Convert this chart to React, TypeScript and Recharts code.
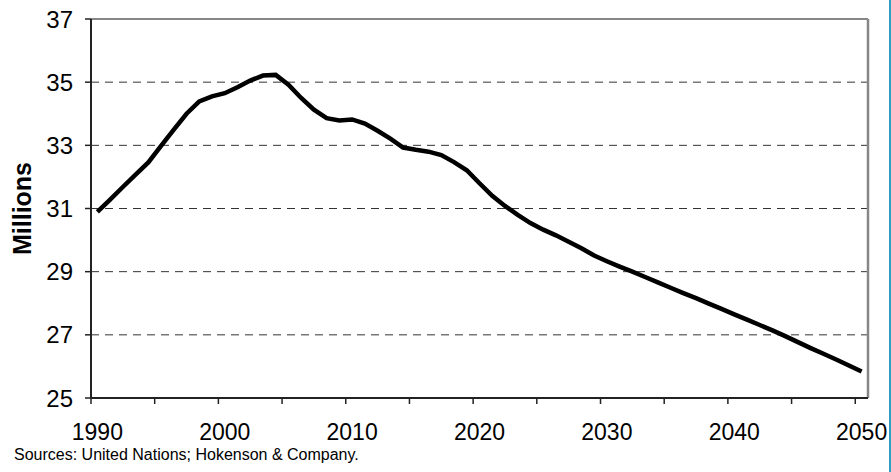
import React from 'react';
import { LineChart, Line, XAxis, YAxis, CartesianGrid, ReferenceLine } from 'recharts';

const years: number[] = [
  1990, 1991, 1992, 1993, 1994, 1995, 1996, 1997, 1998, 1999,
  2000, 2001, 2002, 2003, 2004, 2005, 2006, 2007, 2008, 2009,
  2010, 2011, 2012, 2013, 2014, 2015, 2016, 2017, 2018, 2019,
  2020, 2021, 2022, 2023, 2024, 2025, 2026, 2027, 2028, 2029,
  2030, 2031, 2032, 2033, 2034, 2035, 2036, 2037, 2038, 2039,
  2040, 2041, 2042, 2043, 2044, 2045, 2046, 2047, 2048, 2049, 2050,
];

const population: number[] = [
  30.89, 31.28, 31.68, 32.07, 32.46, 32.98, 33.50, 34.00, 34.39, 34.55,
  34.65, 34.84, 35.05, 35.21, 35.23, 34.92, 34.50, 34.13, 33.86, 33.79,
  33.82, 33.69, 33.46, 33.21, 32.93, 32.86, 32.80, 32.69, 32.47, 32.21,
  31.80, 31.40, 31.08, 30.80, 30.54, 30.33, 30.15, 29.95, 29.74, 29.51,
  29.33, 29.16, 29.00, 28.83, 28.66, 28.49, 28.32, 28.16, 27.99, 27.82,
  27.65, 27.48, 27.31, 27.14, 26.96, 26.77, 26.58, 26.40, 26.22, 26.03, 25.84,
];

const yTicks: number[] = [25, 27, 29, 31, 33, 35, 37];
const xTickMarks: number[] = [1990, 1995, 2000, 2005, 2010, 2015, 2020, 2025, 2030, 2035, 2040, 2045, 2050];
const xLabelYears: number[] = [1990, 2000, 2010, 2020, 2030, 2040, 2050];

// Each year is a category slot; points sit in the middle of their slot.
const data = years.map((y, i) => ({ year: y, x: y + 0.5, value: population[i] }));
const xTicks: number[] = [...xTickMarks, ...xLabelYears.map((y) => y + 0.5)].sort((a, b) => a - b);

const FONT = '"Liberation Sans", Arial, sans-serif';
const TICK_SIZE = 6;
const TICK_MARGIN = 20;

const XTick = (props: any) => {
  const { x, y, payload } = props;
  const v = payload.value as number;
  const axisY = y - TICK_SIZE - TICK_MARGIN;
  if (Number.isInteger(v)) {
    return <line x1={x} x2={x} y1={axisY} y2={axisY + TICK_SIZE} stroke="#222" strokeWidth={1.5} />;
  }
  return (
    <text x={x} y={y} dy="0.71em" textAnchor="middle" fontSize={23} fontFamily={FONT} fill="#000">
      {Math.floor(v)}
    </text>
  );
};

export default function App() {
  return (
    <div style={{ position: 'absolute', left: 0, top: 0, width: 891, height: 472, background: '#fff', overflow: 'hidden' }}>
      <LineChart width={891} height={472} data={data} margin={{ top: 19, right: 23, bottom: 0, left: 0 }}>
        <CartesianGrid horizontal vertical={false} stroke="#333" strokeDasharray="8 6" />
        <XAxis
          xAxisId="x"
          type="number"
          dataKey="x"
          domain={[1990, 2051]}
          ticks={xTicks}
          interval={0}
          height={74}
          tickLine={false}
          tickSize={TICK_SIZE}
          tickMargin={TICK_MARGIN}
          tick={<XTick />}
          axisLine={{ stroke: '#222', strokeWidth: 2 }}
          allowDataOverflow
        />
        <YAxis
          type="number"
          domain={[25, 37]}
          ticks={yTicks}
          interval={0}
          width={91}
          tickSize={6}
          tickMargin={12}
          tick={{ fontSize: 24, fontFamily: FONT, fill: '#000' }}
          tickLine={{ stroke: '#222', strokeWidth: 1.5 }}
          axisLine={{ stroke: '#222', strokeWidth: 2 }}
          allowDataOverflow
          label={{
            value: 'Millions',
            angle: -90,
            position: 'insideLeft',
            offset: 22,
            style: { fontSize: 25, fontWeight: 'bold', fontFamily: FONT, fill: '#000', textAnchor: 'middle' },
          }}
        />
        <ReferenceLine xAxisId="x" y={37} stroke="#878787" strokeWidth={2} />
        <ReferenceLine xAxisId="x" x={2051} stroke="#878787" strokeWidth={2.5} />
        <Line
          xAxisId="x"
          type="linear"
          dataKey="value"
          stroke="#000"
          strokeWidth={4.5}
          dot={false}
          activeDot={false}
          isAnimationActive={false}
        />
      </LineChart>
      <div
        style={{
          position: 'absolute',
          left: 14,
          top: 446,
          fontSize: 16,
          fontFamily: FONT,
          color: '#000',
          whiteSpace: 'nowrap',
          lineHeight: '18px',
        }}
      >
        Sources: United Nations; Hokenson &amp; Company.
      </div>
      <div style={{ position: 'absolute', left: 889, top: 0, width: 2, height: 472, background: '#2e9fc2' }} />
    </div>
  );
}
